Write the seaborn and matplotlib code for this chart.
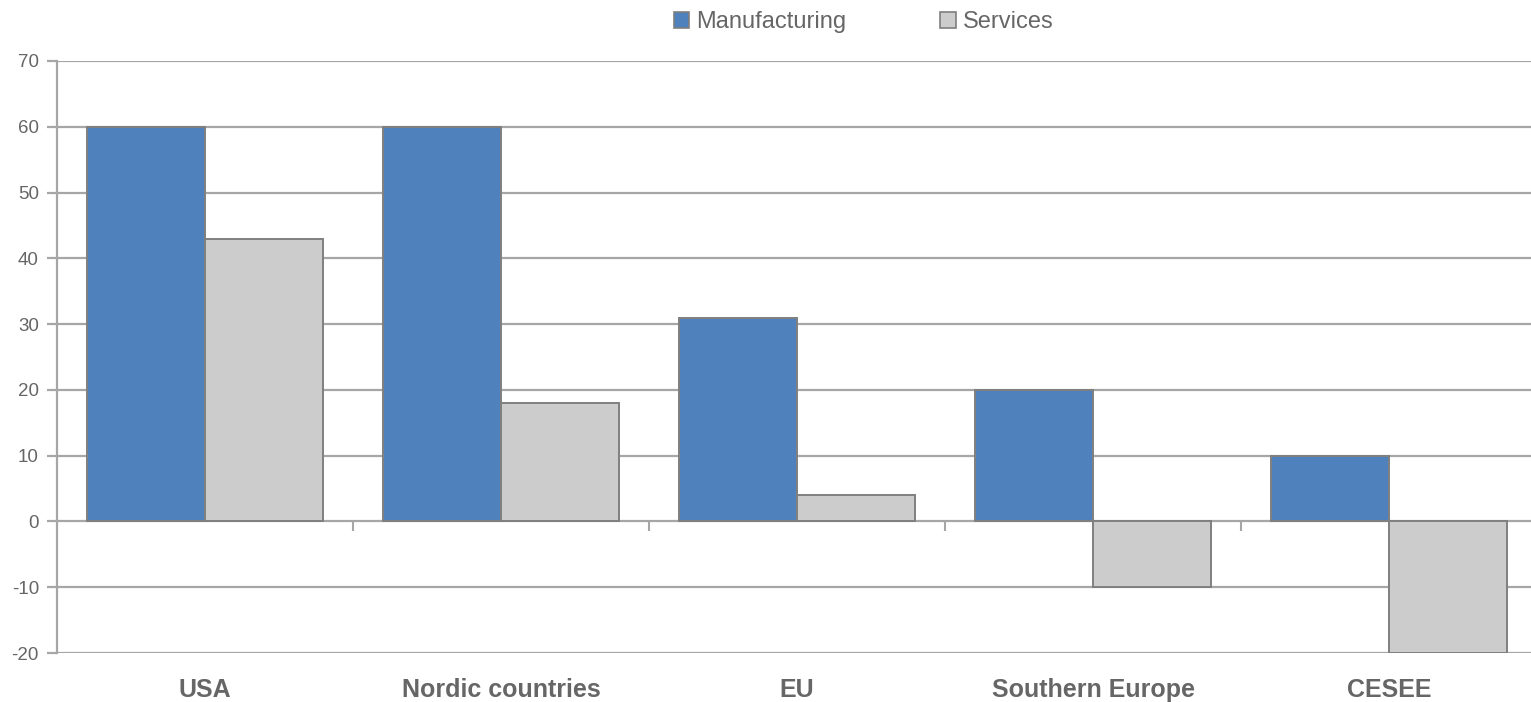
import matplotlib
matplotlib.use("Agg")
import matplotlib.pyplot as plt
from matplotlib.patches import Patch
from matplotlib.ticker import FixedLocator
import pandas as pd
import seaborn as sns

regions = ["USA", "Nordic countries", "EU", "Southern Europe", "CESEE"]
manufacturing = [60, 60, 31, 20, 10]
services = [43, 18, 4, -10, -20]
sectors = ["Manufacturing", "Services"]
yticks = [-20, -10, 0, 10, 20, 30, 40, 50, 60, 70]

df = pd.DataFrame({
    "region": regions * 2,
    "sector": [sectors[0]] * len(regions) + [sectors[1]] * len(regions),
    "value": manufacturing + services,
})

sns.set_theme(style="white")
plt.rcParams["font.family"] = ["Liberation Sans Narrow", "Liberation Sans", "DejaVu Sans"]

BLUE = "#4F81BD"
GREY = "#CCCCCC"
EDGE = "#7F7F7F"
GRID = "#A6A6A6"
TEXT = "#666666"

fig = plt.figure(figsize=(15.31, 7.02), dpi=100)
ax = fig.add_axes([57 / 1531, 1 - 653 / 702, 1480 / 1531, 592 / 702])

sns.barplot(data=df, x="region", y="value", hue="sector", order=regions,
            hue_order=sectors, palette=[BLUE, GREY], saturation=1,
            edgecolor=EDGE, linewidth=1.4, width=0.8, gap=0, legend=False,
            ax=ax, zorder=3)

ax.set_xlim(-0.5, len(regions) - 0.5)
ax.set_ylim(-20, 70)
ax.set_yticks(yticks)
ax.set_yticklabels([str(v) for v in yticks])
ax.yaxis.grid(True, color=GRID, linewidth=1.6, zorder=0)
ax.set_axisbelow(True)
ax.set_xlabel("")
ax.set_ylabel("")

for s in ["top", "right"]:
    ax.spines[s].set_visible(False)
ax.spines["left"].set_color(GRID)
ax.spines["left"].set_linewidth(1.6)
# Bottom spine sits on the zero line and carries the category dividers
ax.spines["bottom"].set_position(("data", 0))
ax.spines["bottom"].set_color("none")
ax.xaxis.set_major_locator(FixedLocator([]))
ax.xaxis.set_minor_locator(FixedLocator([i + 0.5 for i in range(len(regions) - 1)]))
ax.tick_params(axis="x", which="minor", bottom=True, length=7, width=1.5,
               color=GRID, direction="out")
ax.tick_params(axis="y", left=True, length=7, width=1.6, color=GRID,
               labelsize=13.5, labelcolor=TEXT, pad=6)

# Category names along the bottom edge
sec = ax.secondary_xaxis("bottom")
sec.set_xticks(range(len(regions)))
sec.set_xticklabels(regions, fontsize=18, fontweight="bold", color=TEXT)
sec.tick_params(length=0, pad=18)
sec.spines["bottom"].set_visible(False)

handles = [Patch(facecolor=BLUE, edgecolor=EDGE, linewidth=1.2),
           Patch(facecolor=GREY, edgecolor=EDGE, linewidth=1.2)]
leg = fig.legend(handles, sectors, loc="center", bbox_to_anchor=(0.564, 0.968),
                 ncol=2, frameon=False, fontsize=17, handlelength=0.64,
                 handleheight=0.64, handletextpad=0.3, columnspacing=4.0,
                 borderaxespad=0, labelcolor=TEXT)

fig.savefig("out.png", dpi=100, facecolor="white")
